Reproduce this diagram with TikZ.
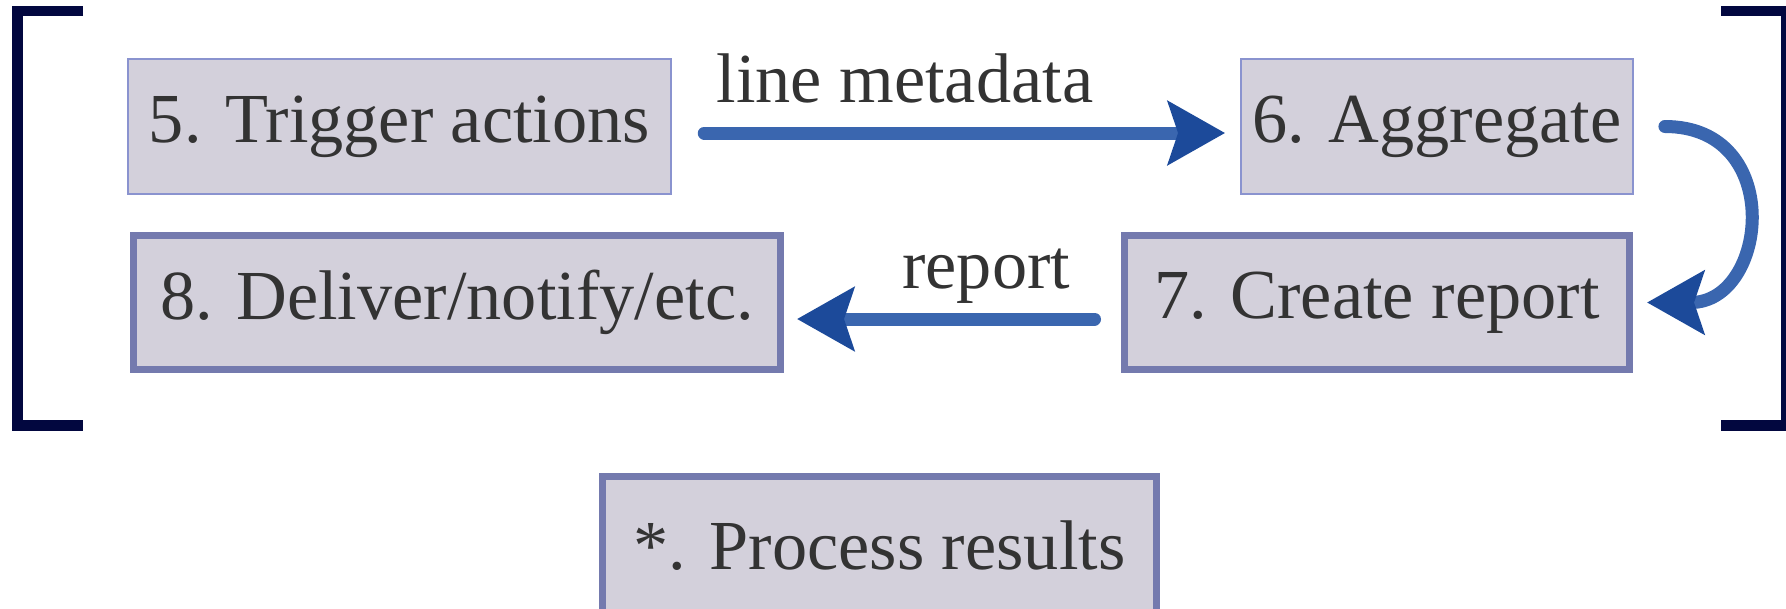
\documentclass[tikz,border=0pt]{standalone}
\usepackage{fontspec}
\setmainfont{Liberation Serif}
\usetikzlibrary{arrows.meta,positioning}
\definecolor{BoxFill}{HTML}{D3D0DB}
\definecolor{BoxLine}{HTML}{8A93CF}
\definecolor{BoxEdge}{HTML}{747AAE}
\definecolor{FlowBlue}{HTML}{3A66AF}
\definecolor{FlowDark}{HTML}{1C4A9A}
\definecolor{BrkNavy}{HTML}{02073F}
\definecolor{TextGray}{HTML}{333333}
\tikzset{
    stage/.style = {draw=BoxLine, fill=BoxFill, rectangle,
        line width=0.15mm, text=TextGray,
        font=\fontsize{20}{24}\selectfont,
        minimum height=1.35cm},
    mainstage/.style = {stage, draw=BoxEdge, line width=0.7mm,
        minimum height=1.34cm},
    flow/.style = {draw=FlowBlue, line width=1.3mm, line cap=round,
        -{Stealth[length=5.7mm,width=6.3mm,inset=1mm,color=FlowDark]}},
    flowlabel/.style = {above, text=TextGray, text depth=0pt,
        font=\fontsize{20}{24}\selectfont, inner sep=2.4mm},
    bracket/.style = {draw=BrkNavy, line width=1.05mm}
}

\begin{document}
\begin{tikzpicture}[x=0.1mm,y=-0.1mm]
                \clip (0,0) rectangle (1786,608);
                % brackets
                \draw[bracket] (83,11) -- (17.5,11) -- (17.5,425.5) -- (83,425.5);
                \draw[bracket] (1721,11) -- (1786,11) -- (1786,425.5) -- (1721,425.5);
                % stages
                \node[stage, minimum width=5.43cm] (trigger) at (399.5,126.5) {5. Trigger actions};
                \node[stage, minimum width=3.84cm] (aggregate) at (1437,126.5) {6. Aggregate};
                \node[mainstage, minimum width=5.05cm] (report) at (1377,302.5) {7. Create report};
                \node[mainstage, minimum width=6.47cm] (deliver) at (457,302.5) {8. Deliver/notify/etc.};
                \node[mainstage, minimum width=5.54cm, minimum height=1.4cm] (process) at (879.5,546) {*. Process results};
                \coordinate[right=3.1mm of aggregate.east] (bendin);
                \coordinate[right=1.4mm of report.east] (bendout);
                % flows
                \draw[flow, shorten <=3.25mm, shorten >=1.5mm] ([yshift=-0.65mm]trigger.east) -- node[flowlabel, pos=.41]{line metadata} ([yshift=-0.65mm]aggregate.west);
                \draw[flow] (bendin) to[out=0, in=0, looseness=1.75] (bendout);
                \draw[flow, shorten <=2.65mm, shorten >=1.3mm] ([yshift=-1.65mm]report.west) -- node[flowlabel, pos=.40]{report} ([yshift=-1.65mm]deliver.east);
\end{tikzpicture}
\end{document}
